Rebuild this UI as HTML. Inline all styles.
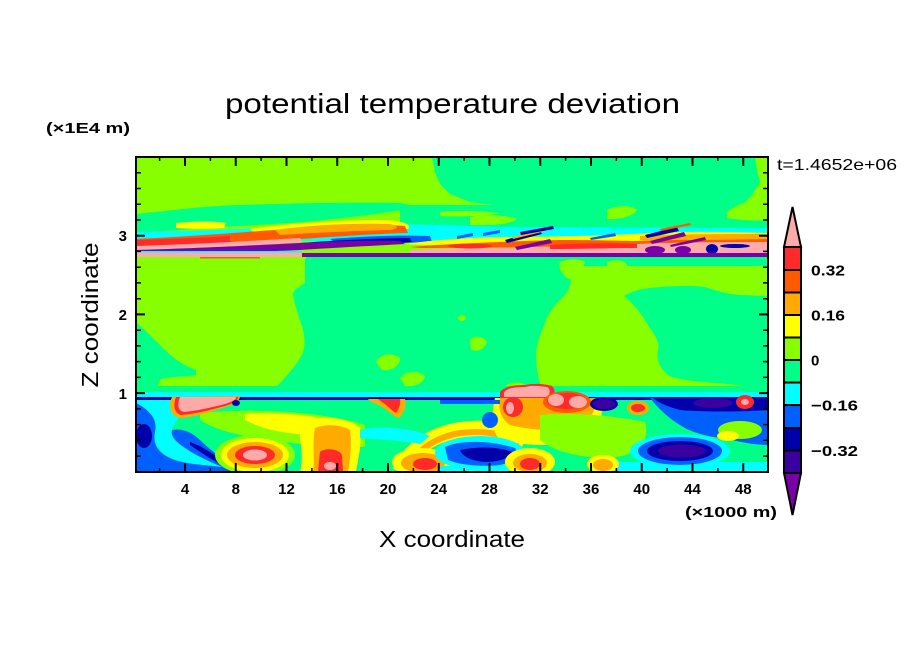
<!DOCTYPE html>
<html><head><meta charset="utf-8"><style>
html,body{margin:0;padding:0;background:#fff;}
svg{display:block;}
text{font-family:"Liberation Sans",sans-serif;fill:#000;}
.b{font-weight:bold;}
</style></head><body>
<svg width="904" height="654" viewBox="0 0 904 654" xmlns="http://www.w3.org/2000/svg">
<defs><clipPath id="c"><rect x="136" y="157" width="632" height="315"/></clipPath></defs>
<rect width="904" height="654" fill="#fff"/>
<g clip-path="url(#c)">
<rect x="136" y="157" width="632" height="315" fill="#88ff00"/>
<!-- top right green -->
<path d="M432,157 L435,172 440,184 450,194 470,202 500,206 540,208 600,210 660,210 700,213 725,219 740,208 752,195 760,182 757,170 755,157 Z" fill="#00ff88"/>
<rect x="400" y="205" width="368" height="26" fill="#00ff88"/>
<path d="M470,217 C485,214 505,215 517,219 C512,224 490,226 470,225 Z" fill="#88ff00"/>
<path d="M607,210 C615,205 632,205 637,210 C634,216 620,220 607,219 Z" fill="#88ff00"/>
<path d="M727,212 C735,205 750,200 768,198 L768,220 C755,221 738,220 727,218 Z" fill="#88ff00"/>
<path d="M440,212 C460,210 480,211 500,213 C490,216 460,217 440,216 Z" fill="#88ff00"/>
<!-- left green streak -->
<path d="M136,214 C170,211 200,206 240,205 C300,203 360,202 400,203 L420,207 C380,214 330,220 290,223 L240,226 C200,228 170,231 136,233 Z" fill="#00ff88"/>
<path d="M176,223 C195,221 215,221 226,223 L224,228 C205,229 190,229 176,228 Z" fill="#ffff00"/>
<!-- cyan layer -->
<path d="M136,232 C200,231 260,228 320,226 C400,223 450,225 500,227 L768,228 L768,240 L500,241 L400,242 L300,241 L136,241 Z" fill="#00ffff"/>
<!-- yellow/orange/red band left -->
<path d="M250,229 C290,223 340,220 385,220 C405,221 412,225 408,229 C370,231 320,234 260,238 Z" fill="#ffff00"/>
<path d="M136,239 C200,236 260,231 300,228 C340,225 380,224 405,226 L408,233 C370,234 330,237 300,239 C250,243 200,246 136,248 Z" fill="#ff5a00"/>
<path d="M275,230 C310,225 350,223 390,224 C400,226 398,229 390,230 C350,231 310,233 280,235 Z" fill="#ffaa00"/>
<path d="M136,240 C170,239 200,238 230,236 L230,243 C200,245 170,246 136,247 Z" fill="#ff2a2a"/>
<path d="M136,246 C200,244 250,241 300,238 L302,242 C250,246 200,249 136,251 Z" fill="#ffaaaa"/>
<!-- dark blue / purple slanting band -->
<path d="M330,239 C370,236 400,235 430,236 L432,242 C400,243 370,244 340,245 Z" fill="#0060ff"/>
<path d="M300,243 C340,240 380,238 410,238 L412,242 C380,244 340,247 300,249 Z" fill="#0000aa"/>
<path d="M136,250 C200,248 260,245 300,243 C340,241 370,240 400,241 L405,244 C370,246 330,248 300,250 C260,252 200,253 136,254 Z" fill="#7a00a8"/>
<!-- right band layers -->
<path d="M405,244 C440,239 480,237 520,237 C580,236 620,235 650,233 C700,231 740,232 768,233 L768,242 L420,245 Z" fill="#ffff00"/>
<path d="M410,247 C460,243 520,241 560,240 C600,240 620,241 637,241 C680,239 730,238 768,238 L768,246 L420,248 Z" fill="#ff5a00"/>
<path d="M640,236 C680,234 720,234 768,234 L768,239 C720,240 680,240 640,240 Z" fill="#ffaa00"/>
<path d="M410,250 C460,248 560,247 637,244 C690,242 730,242 768,242 L768,253 L410,253 Z" fill="#ffaaaa"/>
<path d="M550,245 C580,243 610,243 637,244 L637,248 C610,248 580,249 550,249 Z" fill="#ff2a2a"/>
<ellipse cx="470" cy="246" rx="22" ry="2.5" fill="#ff2a2a"/>
<ellipse cx="655" cy="250" rx="10" ry="4" fill="#7a00a8"/>
<ellipse cx="683" cy="250" rx="8" ry="4" fill="#7a00a8"/>
<ellipse cx="712" cy="249" rx="6" ry="5" fill="#0000aa"/>
<ellipse cx="735" cy="246" rx="15" ry="2" fill="#0000aa"/>
<!-- diagonal streaks -->
<path d="M457,236 L473,233 L473,236 L457,239 Z" fill="#0060ff"/>
<path d="M483,233 L500,230 L500,233 L483,236 Z" fill="#0060ff"/>
<path d="M505,240 L540,230 L542,234 L507,243 Z" fill="#0000aa"/>
<path d="M515,247 L550,239 L552,243 L517,250 Z" fill="#7a00a8"/>
<path d="M512,237 L545,229 L546,231 L513,239 Z" fill="#ffaa00"/>
<path d="M520,232 L553,226 L554,229 L521,235 Z" fill="#0000aa"/>
<path d="M645,235 L677,227 L679,231 L647,238 Z" fill="#0000aa"/>
<path d="M650,241 L684,232 L686,236 L652,244 Z" fill="#7a00a8"/>
<path d="M670,245 L705,237 L706,240 L671,247 Z" fill="#7a00a8"/>
<path d="M660,229 L690,223 L691,225 L661,231 Z" fill="#ff5a00"/>
<path d="M590,238 L615,233 L616,236 L591,240 Z" fill="#0060ff"/>
<!-- thin stripes at interface -->
<rect x="136" y="252" width="166" height="5" fill="#ffaaaa"/>
<rect x="136" y="251" width="166" height="1.5" fill="#00ffff"/>
<rect x="302" y="253" width="466" height="4" fill="#7a00a8"/>
<rect x="200" y="257" width="60" height="1.5" fill="#ff2a2a" opacity="0.7"/>
<!-- middle region -->
<rect x="306" y="257" width="462" height="9" fill="#00ff88"/>
<path d="M305,259 L305,283 C300,287 293,289 293,295 C295,305 298,315 301,323 C305,335 306,345 302,355 C296,365 288,375 278,385 L272,389 L542,389 C538,380 536,365 536,353 C537,343 540,335 545,323 C548,312 555,305 562,298 C568,292 571,285 571,280 C565,272 560,266 555,262 L546,259 Z" fill="#00ff88"/>
<path d="M560,262 C570,258 580,259 585,262 C583,270 577,276 568,279 C562,274 558,268 560,262 Z" fill="#88ff00"/>
<path d="M607,262 C615,259 625,260 627,265 C624,272 615,276 608,274 Z" fill="#88ff00"/>
<path d="M624,296 C632,291 640,289 650,288 C670,286 690,285 705,287 C715,290 725,294 740,295 L768,296 L768,389 C745,386 730,384 715,383 C690,381 675,379 668,375 C660,368 656,360 658,350 C660,343 655,335 650,328 C645,320 640,312 636,308 C632,303 628,299 624,296 Z" fill="#00ff88"/>
<path d="M136,322 C145,330 155,340 165,350 C175,360 185,366 196,370 L196,375 C180,377 165,377 160,380 L156,390 L136,390 Z" fill="#00ff88"/>
<path d="M376,362 C380,354 392,352 400,358 C400,366 392,371 382,370 Z" fill="#88ff00"/>
<path d="M400,378 C405,371 418,370 425,376 C424,383 415,387 405,386 Z" fill="#88ff00"/>
<path d="M470,340 C474,335 484,336 487,342 C484,350 476,353 471,349 Z" fill="#88ff00"/>
<ellipse cx="462" cy="318" rx="4" ry="3" fill="#88ff00"/>
<path d="M503,389 C506,382 520,380 527,386 L527,389 Z" fill="#88ff00"/>
<!-- bottom band -->
<rect x="136" y="386" width="632" height="6" fill="#00ff88"/>
<rect x="136" y="392" width="632" height="6" fill="#00ffff"/>
<rect x="136" y="397" width="632" height="3.5" fill="#0000aa"/>
<rect x="136" y="400" width="632" height="72" fill="#00ff88"/>
<!-- bottom left -->
<path d="M136,400 L200,400 C185,410 175,420 172,430 C185,440 200,450 230,455 L240,472 L136,472 Z" fill="#00ffff"/>
<path d="M136,403 C150,410 158,420 155,432 C152,445 160,455 175,460 C190,465 210,465 230,468 L232,472 L136,472 Z" fill="#0060ff"/>
<ellipse cx="144" cy="436" rx="8" ry="12" fill="#0000aa"/>
<path d="M172,430 C182,428 192,432 200,440 C210,450 222,458 232,466 L225,468 C210,462 195,455 185,448 C176,442 170,436 172,430 Z" fill="#0060ff"/>
<path d="M190,442 L200,446 C210,452 220,458 228,464 L224,466 C212,460 200,452 190,445 Z" fill="#0000aa"/>
<path d="M200,413 C230,410 270,410 300,413 C330,416 350,420 365,425 L365,447 C340,447 300,445 270,440 C240,436 215,430 200,420 Z" fill="#88ff00"/>
<path d="M245,414 C270,412 300,414 320,418 C325,425 318,432 300,434 C280,433 260,428 245,420 Z" fill="#ffff00"/>
<ellipse cx="255" cy="455" rx="40" ry="20" fill="#88ff00"/>
<ellipse cx="255" cy="455" rx="34" ry="17" fill="#ffff00"/>
<ellipse cx="255" cy="455" rx="28" ry="13" fill="#ffaa00"/>
<ellipse cx="255" cy="455" rx="20" ry="9" fill="#ff2a2a"/>
<ellipse cx="255" cy="455" rx="12" ry="5.5" fill="#ffaaaa"/>
<path d="M300,420 C320,415 350,418 360,428 C362,445 358,460 356,472 L300,472 C305,455 298,440 300,420 Z" fill="#ffff00"/>
<path d="M315,428 C325,424 340,424 350,430 C352,445 350,460 348,472 L313,472 C315,460 312,445 315,428 Z" fill="#ffaa00"/>
<path d="M320,452 C325,448 338,448 342,455 L343,472 L318,472 Z" fill="#ff2a2a"/>
<ellipse cx="330" cy="466" rx="6" ry="4" fill="#ffaaaa"/>
<!-- pink blob top-left -->
<path d="M172,397 L240,396 C240,402 232,405 225,407 C210,412 195,417 180,418 C170,416 168,405 172,397 Z" fill="#ffaa00"/>
<path d="M176,397 L238,397 C238,401 232,404 225,406 C210,410 195,414 181,415 C174,413 173,405 176,397 Z" fill="#ff2a2a"/>
<path d="M180,397 L236,397 C237,399 232,402 225,404 C210,408 195,411 184,412 C178,411 177,405 180,397 Z" fill="#ffaaaa"/>
<ellipse cx="236" cy="403" rx="4" ry="3" fill="#0000aa"/>
<!-- red blob top ~390 -->
<path d="M368,399 L405,399 C407,405 404,412 399,418 C392,416 387,409 379,405 C373,403 369,401 368,399 Z" fill="#ffaa00"/>
<path d="M378,399 L400,399 C401,404 399,409 396,413 C391,410 387,405 382,402 Z" fill="#ff2a2a"/>
<!-- orange/yellow arc and bottom blob -->
<path d="M400,472 C410,450 430,435 460,430 C490,426 510,432 525,442" fill="none" stroke="#ffff00" stroke-width="16"/>
<path d="M405,472 C415,452 432,438 460,433 C488,430 505,435 520,442" fill="none" stroke="#ffaa00" stroke-width="6"/>
<ellipse cx="422" cy="462" rx="30" ry="14" fill="#ffff00"/>
<ellipse cx="423" cy="463" rx="22" ry="10" fill="#ffaa00"/>
<ellipse cx="425" cy="464" rx="12" ry="6" fill="#ff2a2a"/>
<path d="M360,430 C380,425 410,428 430,436 L420,444 C400,440 380,440 360,438 Z" fill="#00ffff"/>
<!-- bottom right -->
<path d="M495,398 L600,398 C605,415 600,435 580,440 C555,448 520,445 500,440 C490,430 492,410 495,398 Z" fill="#ffff00"/>
<path d="M500,398 L595,398 C597,410 590,422 575,428 C555,432 530,430 510,425 C500,418 498,408 500,398 Z" fill="#ffaa00"/>
<path d="M500,392 C505,386 515,385 525,385 C535,383 545,384 552,386 C556,390 555,396 552,398 L500,398 Z" fill="#ff2a2a"/>
<path d="M504,393 C506,388 515,387 525,387 C532,385 540,386 547,387 C551,389 550,394 548,397 L504,397 Z" fill="#ffaaaa"/>
<ellipse cx="513" cy="407" rx="10" ry="10" fill="#ff2a2a"/>
<ellipse cx="510" cy="408" rx="4" ry="6" fill="#ffaaaa"/>
<ellipse cx="567" cy="402" rx="24" ry="11" fill="#ff5a00"/>
<ellipse cx="567" cy="401" rx="20" ry="8" fill="#ff2a2a"/>
<ellipse cx="556" cy="400" rx="8" ry="6" fill="#ffaaaa"/>
<ellipse cx="578" cy="402" rx="9" ry="6" fill="#ffaaaa"/>
<ellipse cx="604" cy="404" rx="14" ry="7" fill="#0000aa"/>
<ellipse cx="604" cy="404" rx="11" ry="5" fill="#3a00a0"/>
<ellipse cx="638" cy="408" rx="11" ry="7" fill="#ffaa00"/>
<ellipse cx="638" cy="408" rx="7" ry="4" fill="#ff2a2a"/>
<path d="M540,415 C570,412 610,415 645,422 C650,440 640,455 610,458 C580,458 555,452 540,440 Z" fill="#88ff00"/>
<path d="M650,398 L768,398 L768,445 C750,445 735,440 720,438 C705,436 690,432 680,425 C668,418 658,408 650,398 Z" fill="#0060ff"/>
<path d="M653,398 L768,398 L768,410 C740,412 700,412 680,410 C665,406 658,402 653,398 Z" fill="#0000aa"/>
<ellipse cx="713" cy="403" rx="20" ry="5" fill="#3a00a0"/>
<ellipse cx="740" cy="430" rx="22" ry="9" fill="#88ff00"/>
<ellipse cx="728" cy="436" rx="11" ry="5" fill="#ffff00"/>
<ellipse cx="745" cy="402" rx="9" ry="7" fill="#ff2a2a"/>
<ellipse cx="745" cy="402" rx="4" ry="3" fill="#ffaaaa"/>
<rect x="600" y="462" width="168" height="10" fill="#00ffff"/>
<ellipse cx="680" cy="451" rx="50" ry="17" fill="#00ffff"/>
<ellipse cx="680" cy="451" rx="42" ry="14" fill="#0060ff"/>
<ellipse cx="680" cy="451" rx="33" ry="10" fill="#0000aa"/>
<ellipse cx="682" cy="451" rx="24" ry="6.5" fill="#3a00a0"/>
<ellipse cx="480" cy="453" rx="45" ry="17" fill="#00ffff"/>
<path d="M445,447 C460,440 490,440 515,448 C520,455 515,462 500,465 C480,467 460,465 448,460 Z" fill="#0060ff"/>
<path d="M460,450 C480,446 500,447 512,452 C510,458 500,462 485,462 C470,461 462,456 460,450 Z" fill="#0000aa"/>
<rect x="440" y="466" width="70" height="6" fill="#00ffff"/>
<ellipse cx="530" cy="462" rx="25" ry="14" fill="#ffff00"/>
<ellipse cx="530" cy="463" rx="17" ry="9" fill="#ffaa00"/>
<ellipse cx="530" cy="464" rx="10" ry="6" fill="#ff2a2a"/>
<ellipse cx="603" cy="464" rx="16" ry="9" fill="#ffff00"/>
<ellipse cx="603" cy="465" rx="10" ry="6" fill="#ffaa00"/>
<ellipse cx="490" cy="420" rx="8" ry="8" fill="#0060ff"/>
<path d="M440,400 L500,400 L500,404 L440,404 Z" fill="#0060ff"/>
</g>
<!-- frame -->
<rect x="136" y="157" width="632" height="315" fill="none" stroke="#000" stroke-width="2"/>
<g stroke="#000" stroke-width="2">
<path d="M185,472v-9M235.75,472v-9M286.5,472v-9M337.25,472v-9M388,472v-9M438.75,472v-9M489.5,472v-9M540.25,472v-9M591,472v-9M641.75,472v-9M692.5,472v-9M743.25,472v-9
M185,157v9M235.75,157v9M286.5,157v9M337.25,157v9M388,157v9M438.75,157v9M489.5,157v9M540.25,157v9M591,157v9M641.75,157v9M692.5,157v9M743.25,157v9"/>
<path stroke-width="1.5" d="M159.6,472v-4M210.4,472v-4M261.1,472v-4M311.9,472v-4M362.6,472v-4M413.4,472v-4M464.1,472v-4M514.9,472v-4M565.6,472v-4M616.4,472v-4M667.1,472v-4M717.9,472v-4
M159.6,157v4M210.4,157v4M261.1,157v4M311.9,157v4M362.6,157v4M413.4,157v4M464.1,157v4M514.9,157v4M565.6,157v4M616.4,157v4M667.1,157v4M717.9,157v4"/>
<path d="M136,393.1h9M136,314.4h9M136,235.7h9M768,393.1h-9M768,314.4h-9M768,235.7h-9"/>
<path stroke-width="1.5" d="M136,456.1h5M136,440.3h5M136,424.6h5M136,408.9h5M136,377.4h5M136,361.6h5M136,345.9h5M136,330.2h5M136,298.7h5M136,282.9h5M136,267.2h5M136,251.4h5M136,220h5M136,204.2h5M136,188.5h5M136,172.7h5
M768,456.1h-5M768,440.3h-5M768,424.6h-5M768,408.9h-5M768,377.4h-5M768,361.6h-5M768,345.9h-5M768,330.2h-5M768,298.7h-5M768,282.9h-5M768,267.2h-5M768,251.4h-5M768,220h-5M768,204.2h-5M768,188.5h-5M768,172.7h-5"/>
</g>
<g class="b" font-size="15" text-anchor="middle">
<text x="185" y="494">4</text><text x="235.75" y="494">8</text><text x="286.5" y="494">12</text><text x="337.25" y="494">16</text><text x="388" y="494">20</text><text x="438.75" y="494">24</text><text x="489.5" y="494">28</text><text x="540.25" y="494">32</text><text x="591" y="494">36</text><text x="641.75" y="494">40</text><text x="692.5" y="494">44</text><text x="743.25" y="494">48</text>
</g>
<g class="b" font-size="15" text-anchor="end">
<text x="127" y="241">3</text><text x="127" y="320">2</text><text x="127" y="399">1</text>
</g>
<text class="b" x="685" y="517" font-size="15" textLength="92" lengthAdjust="spacingAndGlyphs">(×1000 m)</text>
<text class="b" x="46" y="133" font-size="15" textLength="84" lengthAdjust="spacingAndGlyphs">(×1E4 m)</text>
<text x="225" y="113" font-size="28" textLength="455" lengthAdjust="spacingAndGlyphs">potential temperature deviation</text>
<text x="379" y="547" font-size="23" textLength="146" lengthAdjust="spacingAndGlyphs">X coordinate</text>
<text transform="translate(98,315) rotate(-90)" x="0" y="0" font-size="23" text-anchor="middle" textLength="145" lengthAdjust="spacingAndGlyphs">Z coordinate</text>
<text x="777" y="170" font-size="16" textLength="120" lengthAdjust="spacingAndGlyphs">t=1.4652e+06</text>
<g stroke="#000" stroke-width="2">
<path d="M792.5,207 L801,247 L784,247 Z" fill="#ffaaaa"/>
<rect x="784" y="247" width="17" height="23" fill="#ff2a2a"/>
<rect x="784" y="270" width="17" height="22.5" fill="#ff5a00"/>
<rect x="784" y="292.5" width="17" height="22.5" fill="#ffaa00"/>
<rect x="784" y="315" width="17" height="22.5" fill="#ffff00"/>
<rect x="784" y="337.5" width="17" height="22.5" fill="#88ff00"/>
<rect x="784" y="360" width="17" height="22.5" fill="#00ff88"/>
<rect x="784" y="382.5" width="17" height="22.5" fill="#00ffff"/>
<rect x="784" y="405" width="17" height="23" fill="#0060ff"/>
<rect x="784" y="428" width="17" height="22.5" fill="#0000aa"/>
<rect x="784" y="450.5" width="17" height="22.5" fill="#3a00a0"/>
<path d="M784,473 L801,473 L792.5,515 Z" fill="#7a00a8"/>
</g>
<g class="b" font-size="15">
<text x="811" y="275.5" textLength="34" lengthAdjust="spacingAndGlyphs">0.32</text>
<text x="811" y="320.5" textLength="34" lengthAdjust="spacingAndGlyphs">0.16</text>
<text x="811" y="365.5">0</text>
<text x="811" y="410.5" textLength="47" lengthAdjust="spacingAndGlyphs">−0.16</text>
<text x="811" y="456" textLength="47" lengthAdjust="spacingAndGlyphs">−0.32</text>
</g>
</svg>
</body></html>
